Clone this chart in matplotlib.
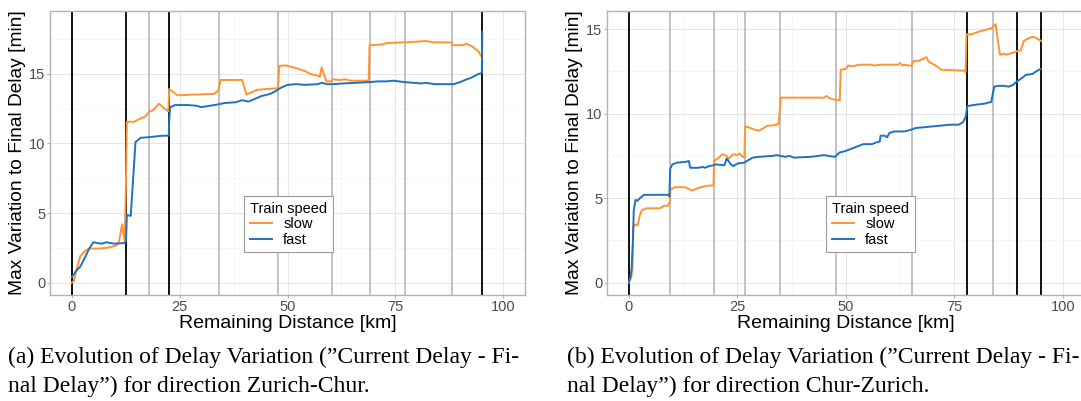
import matplotlib
matplotlib.use("Agg")
import matplotlib.pyplot as plt
from matplotlib.ticker import MultipleLocator

plt.rcParams["font.family"] = ["Liberation Sans", "DejaVu Sans"]

# --- data ----------------------------------------------------------------
# (a) Zurich-Chur
zc_slow = [(0, 0.0), (0.5, 0.1), (1.2, 1.0), (2.0, 1.9), (3.2, 2.3), (4, 2.45), (6, 2.45),
           (8, 2.5), (9.5, 2.6), (10.5, 2.7), (11.0, 3.0), (11.7, 4.2), (12.3, 3.0), (12.6, 7.3),
           (12.8, 11.55), (14.5, 11.55), (16, 11.8), (17, 11.9), (18, 12.3), (19, 12.4),
           (20.2, 12.85), (21.5, 12.5), (22.4, 12.3), (22.6, 13.9), (24.5, 13.45), (28, 13.5),
           (33, 13.55), (34, 13.8), (34.5, 14.55), (39.5, 14.55), (40.5, 13.5), (43, 13.85),
           (47.5, 13.95), (47.8, 14.05), (48.1, 15.55), (49.5, 15.6), (52, 15.4), (54, 15.2),
           (55.5, 14.95), (56.5, 14.9), (57.5, 14.8), (57.9, 15.45), (59, 14.45), (60, 14.45),
           (60.5, 14.6), (62, 14.55), (63.5, 14.6), (64.5, 14.5), (68.8, 14.5), (69, 17.05),
           (72, 17.1), (73, 17.2), (77, 17.25), (80, 17.3), (82, 17.35), (84, 17.25), (88, 17.25),
           (88.2, 17.05), (90.5, 17.05), (91.5, 17.15), (92.8, 16.95), (94.2, 16.6), (95, 16.2)]
zc_fast = [(0, 0.4), (0.5, 0.6), (1.2, 0.9), (2, 1.15), (3, 1.75), (4, 2.4), (5, 2.9), (6, 2.85),
           (7, 2.8), (8, 2.9), (10, 2.8), (12.3, 2.85), (12.6, 3.0), (12.8, 4.85), (13.7, 4.8),
           (14.8, 10.1), (16, 10.4), (18, 10.45), (19.5, 10.5), (21, 10.55), (22.5, 10.55),
           (22.6, 11.55), (22.8, 12.6), (24, 12.75), (27, 12.75), (29, 12.7), (30, 12.6),
           (32, 12.7), (34, 12.8), (35.5, 12.9), (38, 12.95), (39.5, 13.1), (41, 13.0),
           (42.5, 13.2), (44, 13.4), (46, 13.55), (47.5, 13.8), (48.5, 14.0), (50, 14.2),
           (52, 14.25), (54, 14.2), (57, 14.25), (58, 14.35), (59, 14.25), (60.5, 14.25),
           (63, 14.3), (66, 14.35), (69, 14.4), (71, 14.45), (73, 14.45), (74.5, 14.5), (77, 14.4),
           (79, 14.35), (81, 14.3), (82, 14.35), (84, 14.25), (88.5, 14.25), (90, 14.4),
           (91.5, 14.6), (92.5, 14.7), (94, 14.95), (95, 15.05), (95.1, 18.0)]
zc_black = [0, 12.7, 22.5, 95.1]
zc_gray = [17.9, 34.1, 47.7, 60.3, 69.0, 77.2, 88.2]

# (b) Chur-Zurich
cz_slow = [(0, 0.0), (0.5, 0.3), (0.8, 0.8), (1.0, 3.3), (1.5, 3.45), (2.0, 3.4), (2.5, 4.0),
           (3, 4.3), (4, 4.4), (7, 4.4), (7.5, 4.45), (8, 4.55), (9, 4.55), (9.4, 4.8), (9.6, 5.6),
           (10, 5.55), (10.5, 5.65), (13, 5.65), (14.5, 5.45), (15.5, 5.55), (16.5, 5.65),
           (18.5, 5.75), (19.5, 5.75), (19.6, 7.2), (20.5, 7.35), (21.5, 7.6), (22.5, 7.5),
           (23, 7.35), (24, 7.6), (25, 7.55), (25.5, 7.65), (26, 7.5), (26.6, 7.4), (26.8, 9.25),
           (27.5, 9.2), (29, 9.05), (30, 9.0), (31, 9.15), (32, 9.3), (33, 9.3), (34.5, 9.4),
           (35, 10.95), (45, 10.95), (45.5, 11.05), (46, 10.95), (47, 10.85), (48.6, 10.8),
           (48.8, 12.6), (50, 12.65), (50.5, 12.85), (51.5, 12.8), (53, 12.9), (56, 12.9),
           (56.5, 12.85), (58, 12.9), (62, 12.9), (62.5, 13.0), (63, 12.85), (63.5, 12.9),
           (64.5, 12.85), (65.2, 12.85), (65.5, 13.1), (67, 13.15), (68.6, 13.35), (69, 13.1),
           (70, 12.95), (71, 12.8), (72, 12.6), (77.3, 12.55), (77.6, 12.45), (77.8, 14.7),
           (79, 14.7), (80.5, 14.85), (82, 14.95), (83.5, 15.05), (84.5, 15.3), (85.5, 13.5),
           (86.5, 13.55), (87, 13.5), (88.5, 13.6), (89.4, 13.7), (90.3, 13.75), (91, 14.3),
           (92, 14.45), (93, 14.55), (93.8, 14.5), (95, 14.3)]
cz_fast = [(0, 0.05), (0.3, 0.3), (0.6, 0.8), (0.9, 2.5), (1.1, 4.3), (1.5, 4.9), (2, 4.85),
           (2.5, 5.0), (3, 5.1), (3.5, 5.2), (5, 5.2), (9.2, 5.2), (9.3, 5.1), (9.5, 6.75),
           (10, 7.0), (11, 7.1), (13, 7.15), (13.8, 7.2), (14.1, 6.8), (16, 6.8), (17, 6.85),
           (17.5, 6.8), (18.5, 6.9), (19.5, 6.95), (20, 7.0), (22, 6.95), (22.5, 7.35), (23.5, 7.0),
           (24, 6.9), (25, 7.05), (26.5, 7.1), (27.5, 7.25), (28.5, 7.4), (30, 7.45), (33, 7.5),
           (34, 7.55), (36, 7.45), (37, 7.5), (38, 7.4), (42, 7.45), (45, 7.55), (46, 7.5),
           (47.5, 7.45), (48.5, 7.7), (50, 7.8), (52, 8.0), (54, 8.2), (56, 8.2), (57, 8.3),
           (57.8, 8.35), (58, 8.7), (59, 8.7), (59.5, 8.6), (60, 8.85), (61, 8.95), (63.5, 8.95),
           (65, 9.05), (66, 9.15), (68, 9.2), (70, 9.25), (72, 9.3), (74, 9.35), (76, 9.35),
           (77, 9.5), (77.6, 9.8), (78, 10.45), (79, 10.5), (82, 10.6), (83.5, 10.7), (84.2, 11.6),
           (85, 11.65), (86.5, 11.65), (87.5, 11.6), (88.5, 11.7), (89.4, 11.9), (90.5, 12.1),
           (91.5, 12.3), (93, 12.35), (93.5, 12.45), (94.5, 12.6), (95, 12.65)]
cz_black = [0, 78.0, 89.4, 95.0]
cz_gray = [9.5, 19.6, 26.8, 34.9, 47.7, 65.2, 83.9]

captions = [
    ("(a) Evolution of Delay Variation (\u201dCurrent Delay - Fi-",
     "nal Delay\u201d) for direction Zurich-Chur."),
    ("(b) Evolution of Delay Variation (\u201dCurrent Delay - Fi-",
     "nal Delay\u201d) for direction Chur-Zurich."),
]

ORANGE = "#FF9430"
BLUE = "#1E72C0"

W, H = 1081, 401
fig = plt.figure(figsize=(W / 100, H / 100), dpi=100)


def px_axes(l, t, r, b):
    return fig.add_axes([l / W, 1 - b / H, (r - l) / W, (b - t) / H])


def panel(ax, slow, fast, black, gray, ylim, ylab_x, leg_x):
    ax.set_xlim(-5, 105)
    ax.set_ylim(*ylim)
    ax.xaxis.set_major_locator(MultipleLocator(25))
    ax.xaxis.set_minor_locator(MultipleLocator(12.5))
    ax.yaxis.set_major_locator(MultipleLocator(5))
    ax.yaxis.set_minor_locator(MultipleLocator(2.5))
    ax.grid(which="major", color="#E6E6E6", lw=0.7)
    ax.grid(which="minor", color="#F3F3F3", lw=0.5)
    ax.set_axisbelow(True)
    for s in ax.spines.values():
        s.set_color("#B3B3B3")
        s.set_linewidth(1.0)
    ax.tick_params(which="both", length=0)
    ax.tick_params(which="major", length=2, color="#B3B3B3", labelsize=10.5,
                   labelcolor="#4D4D4D", pad=1.5)
    for x in gray:
        ax.axvline(x, color="#BDBDBD", lw=1.3, zorder=1)
    for x in black:
        ax.axvline(x, color="black", lw=1.3, zorder=1)
    sx, sy = zip(*slow)
    fx, fy = zip(*fast)
    ax.plot(sx, sy, color=ORANGE, lw=1.4, label="slow", zorder=3)
    ax.plot(fx, fy, color=BLUE, lw=1.4, label="fast", zorder=3)
    ax.set_xlabel("Remaining Distance [km]", fontsize=14, labelpad=1)
    ax.set_ylabel("Max Variation to Final Delay [min]", fontsize=13.8)
    ax.yaxis.set_label_coords(ylab_x, 0.5)
    leg = ax.legend(title="Train speed", loc="upper left", bbox_to_anchor=(leg_x, 0.349),
                    borderaxespad=0, fontsize=10.5, title_fontsize=10.5, handlelength=1.5,
                    fancybox=False, framealpha=1, edgecolor="#9A9A9A", alignment="left",
                    labelspacing=0.1, handletextpad=0.8, borderpad=0.4)
    leg.get_frame().set_linewidth(0.8)


ax1 = px_axes(50, 11, 525, 295)
panel(ax1, zc_slow, zc_fast, zc_black, zc_gray, (-0.88, 19.5), -0.05, 0.408)
ax2 = px_axes(607.3, 11, 1084.5, 295)
panel(ax2, cz_slow, cz_fast, cz_black, cz_gray, (-0.73, 16.08), -0.05, 0.458)

serif = ["Liberation Serif", "DejaVu Serif"]
for (l1, l2), x0 in zip(captions, [8, 567]):
    fig.text(x0 / W, 1 - 357 / H, l1, family=serif, fontsize=17, va="center", ha="left")
    fig.text(x0 / W, 1 - 386 / H, l2, family=serif, fontsize=17, va="center", ha="left")

fig.savefig("out.png", dpi=100)
